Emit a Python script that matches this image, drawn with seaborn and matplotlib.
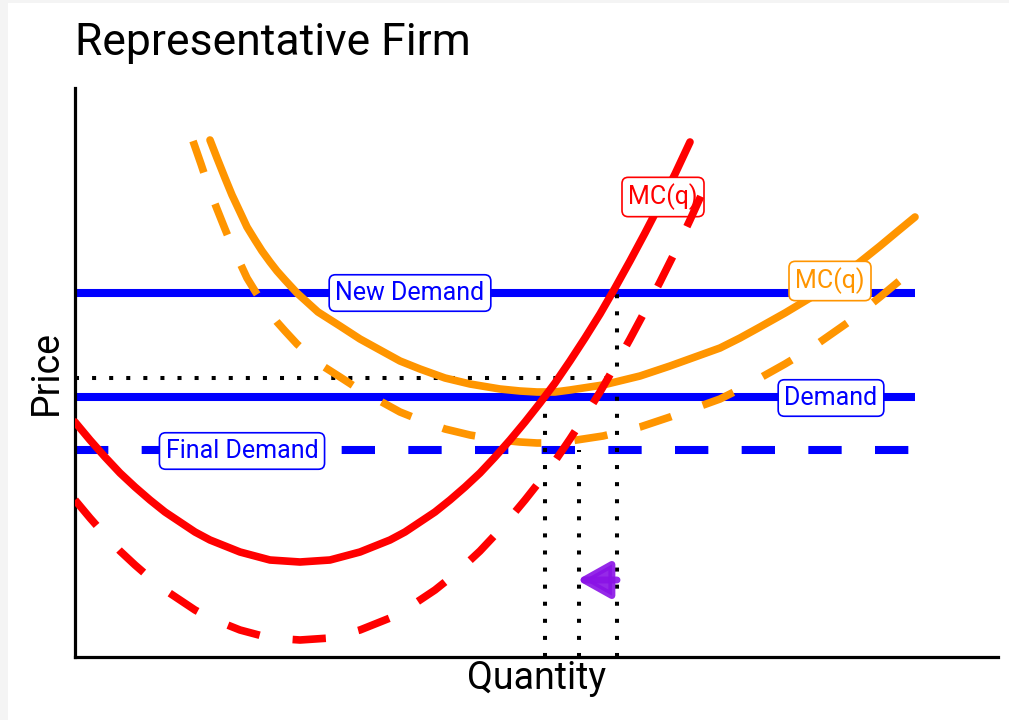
import matplotlib
matplotlib.use("Agg")
import matplotlib.pyplot as plt
from matplotlib.patches import Rectangle
import seaborn as sns

# --- values (quantity / price units) ---
mc_q = [0, 1.5, 3, 4.5, 6, 7.5, 9, 10.5, 12, 13.5, 15, 16.5, 18, 19.5, 21, 22.5,
        24, 25.5, 27, 28.5, 30, 31.5, 33, 34.5, 36, 37.5, 39, 40.5, 42, 43.5, 45,
        46.5, 48, 49.5, 51, 52.5, 54, 55.5, 57, 58.5, 60, 61.5]
mc_p = [23.5, 21.7, 20.0, 18.4, 17.0, 15.7, 14.5, 13.5, 12.5, 11.7, 11.1, 10.5, 10.1, 9.7, 9.6, 9.5,
        9.6, 9.7, 10.1, 10.5, 11.1, 11.7, 12.5, 13.5, 14.5, 15.7, 17.0, 18.4, 20.0, 21.7, 23.5,
        25.4, 27.4, 29.6, 31.9, 34.3, 36.9, 39.6, 42.4, 45.3, 48.3, 51.5]

mc_new_q = [0, 1.5, 3, 4.5, 6, 7.5, 9, 10.5, 12, 13.5, 15, 16.5, 18, 19.5, 21, 22.5,
            24, 25.5, 27, 28.5, 30, 31.5, 33, 34.5, 36, 37.5, 39, 40.5, 42, 43.5, 45,
            46.5, 48, 49.5, 51, 52.5, 54, 55.5, 57, 58.5, 60, 61.5, 63, 63.7]
mc_new_p = [15.7, 13.9, 12.2, 10.6, 9.2, 7.9, 6.7, 5.7, 4.7, 3.9, 3.3, 2.7, 2.3, 1.9, 1.8, 1.7,
            1.8, 1.9, 2.3, 2.7, 3.3, 3.9, 4.7, 5.7, 6.7, 7.9, 9.2, 10.6, 12.2, 13.9, 15.7,
            17.6, 19.6, 21.8, 24.1, 26.5, 29.1, 31.8, 34.6, 37.5, 40.5, 43.7, 47.0, 48.6]

atc_q = [13.5, 14.2, 15.0, 15.7, 16.5, 17.2, 18.0, 18.7, 19.5, 20.2,
         21.0, 22.2, 24.3, 26.5, 28.5, 30.5, 32.5, 34.5, 37.0, 39.5,
         42.5, 44.5, 46.2, 48.0, 49.5, 52.8, 56.5, 59.5, 62.0, 64.5,
         66.5, 68.5, 71.0, 73.5, 75.5, 77.5, 79.0, 80.5, 82.3, 84.0]
atc_p = [51.7, 49.9, 47.9, 46.2, 44.5, 43.0, 41.7, 40.6, 39.5, 38.6,
         37.7, 36.4, 34.5, 33.1, 31.8, 30.7, 29.6, 28.8, 27.9, 27.3,
         26.8, 26.6, 26.5, 26.5, 26.7, 27.2, 28.1, 29.1, 30.0, 30.9,
         31.9, 33.0, 34.4, 35.9, 37.3, 38.7, 39.9, 41.1, 42.6, 44.0]

atc_new_q = [11.8, 12.6, 13.5, 14.2, 15.0, 15.7, 16.5, 17.2, 18.0, 18.7, 19.5, 20.2,
             21.0, 22.2, 24.3, 26.5, 28.5, 30.5, 32.5, 34.5, 37.0, 39.5,
             42.5, 44.5, 46.2, 48.0, 49.5, 52.8, 56.5, 59.5, 62.0, 64.5,
             66.5, 68.5, 71.0, 73.5, 75.5, 77.5, 79.0, 80.5, 82.3, 84.0]
atc_new_p = [51.6, 49.3, 46.6, 44.8, 42.8, 41.1, 39.4, 37.9, 36.6, 35.5, 34.4, 33.5,
             32.6, 31.3, 29.4, 28.0, 26.7, 25.6, 24.5, 23.7, 22.8, 22.2,
             21.7, 21.5, 21.4, 21.4, 21.6, 22.1, 23.0, 24.0, 24.9, 25.8,
             26.8, 27.9, 29.3, 30.8, 32.2, 33.6, 34.8, 36.0, 37.5, 38.9]

demand_p = 26.0
new_demand_p = 36.4
final_demand_p = 20.7
demand_q_max = 84.0

price_guide = 27.9
price_guide_q = 53.5
q_guides = [47.0, 50.4, 54.2]
q_guide_tops = [26.0, 20.7, 36.4]

arrow_from = (54.2, 7.7)
arrow_to = (50.2, 7.7)

BLUE = "#0000ff"
RED = "#ff0000"
ORANGE = "#ff9500"
PURPLE = "#8a12e6"

sns.set_theme(style="white")
plt.rcParams["font.family"] = ["Roboto", "DejaVu Sans"]
plt.rcParams["lines.scale_dashes"] = False

fig = plt.figure(figsize=(10.09, 7.2), dpi=100)
fig.patch.set_facecolor("#f4f4f4")
fig.add_artist(Rectangle((8 / 1009, 0), 1, 717 / 720, transform=fig.transFigure,
                         fc="white", ec="none", zorder=-1))
ax = fig.add_axes([75 / 1009, 63 / 720, 923 / 1009, 569 / 720])
ax.set_facecolor("white")

dash = (0, (24, 24))
dots = (0, (2.9, 9.4))
LW = 5.5

# demand lines
ax.hlines(new_demand_p, 0, demand_q_max, color=BLUE, lw=5.8, zorder=2)
ax.hlines(demand_p, 0, demand_q_max, color=BLUE, lw=5.8, zorder=2)
ax.hlines(final_demand_p, 0, demand_q_max, color=BLUE, lw=5.8, linestyle=dash, zorder=2)

# dotted guides
ax.hlines(price_guide, 0, price_guide_q, color="black", lw=2.9, linestyle=dots, zorder=2.5)
for q, top in zip(q_guides, q_guide_tops):
    ax.vlines(q, 0, top, color="black", lw=2.9, linestyle=dots, zorder=2.5)

# cost curves
sns.lineplot(x=atc_new_q, y=atc_new_p, ax=ax, color=ORANGE, linewidth=LW, linestyle=dash,
             estimator=None, zorder=3)
sns.lineplot(x=atc_q, y=atc_p, ax=ax, color=ORANGE, linewidth=LW, estimator=None, zorder=3)
sns.lineplot(x=mc_q, y=mc_p, ax=ax, color=RED, linewidth=LW, estimator=None, zorder=4)
sns.lineplot(x=mc_new_q, y=mc_new_p, ax=ax, color=RED, linewidth=LW, linestyle=dash,
             estimator=None, zorder=6)

# labels
def tag(x, y, s, c):
    ax.text(x, y, s, ha="center", va="center", color=c, fontsize=18, zorder=5,
            bbox=dict(boxstyle="round,pad=0.25", fc="white", ec=c, lw=1.2))

tag(33.5, 36.4, "New Demand", BLUE)
tag(75.6, 25.9, "Demand", BLUE)
tag(16.7, 20.6, "Final Demand", BLUE)
tag(58.8, 46.0, "MC(q)", RED)
tag(75.5, 37.6, "MC(q)", ORANGE)

ax.annotate("", xy=arrow_to, xytext=arrow_from, zorder=7,
            arrowprops=dict(arrowstyle="-|>,head_length=0.5,head_width=0.28",
                            mutation_scale=40, color=PURPLE, lw=5, alpha=0.9,
                            shrinkA=0, shrinkB=0, joinstyle="round"))

ax.set_xlim(0, 92.3)
ax.set_ylim(0, 56.9)
ax.set_xticks([])
ax.set_yticks([])
for side in ["top", "right"]:
    ax.spines[side].set_visible(False)
for side in ["left", "bottom"]:
    ax.spines[side].set_color("black")
    ax.spines[side].set_linewidth(2.3)

ax.set_xlabel("Quantity", fontsize=27, labelpad=2, color="black")
ax.set_ylabel("Price", fontsize=27, labelpad=7, color="black")
fig.text(75 / 1009, 1 - 55 / 720, "Representative Firm", fontsize=32, va="baseline",
         ha="left", color="black")

fig.savefig("out.png", dpi=100, facecolor=fig.get_facecolor())
